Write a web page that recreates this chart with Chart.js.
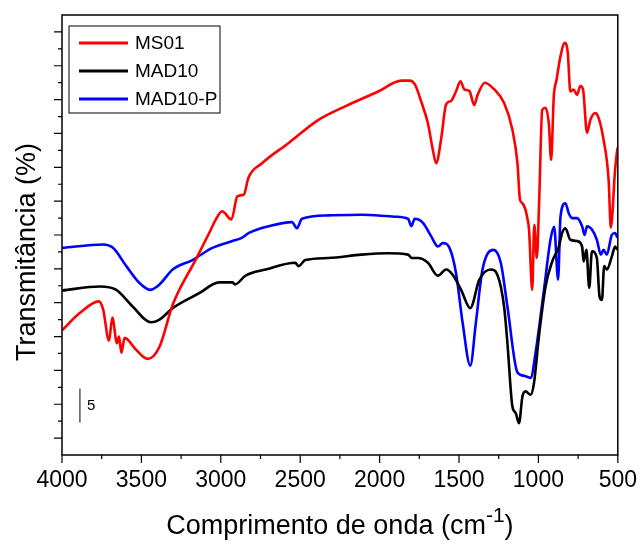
<!DOCTYPE html>
<html>
<head>
<meta charset="utf-8">
<script src="https://cdn.jsdelivr.net/npm/chart.js@4.4.1/dist/chart.umd.min.js"></script>
<style>
  html, body { margin: 0; padding: 0; background: #fff; }
  #wrap { width: 641px; height: 550px; }
</style>
</head>
<body>
<div id="wrap"><canvas id="ftir"></canvas></div>
<script>
// ------------------------------------------------------
// DADOS
// ------------------------------------------------------
const seriesNames = ["MS01", "MAD10", "MAD10-P"];
const seriesColors = ["#ff0000", "#000000", "#0000ff"];

const ms01Wn = [4000, 3887, 3768, 3741, 3704, 3683, 3654, 3641, 3626, 3606, 3532, 3460, 3386, 3303, 3157, 3073,
  3031, 2992, 2933, 2896, 2854, 2827, 2740, 2572, 2385, 2217, 2009, 1863, 1810, 1777, 1738, 1696, 1665, 1644,
  1613, 1581, 1550, 1519, 1491, 1466, 1435, 1404, 1383, 1337, 1278, 1216, 1164, 1132, 1116, 1101, 1081, 1070,
  1059, 1039, 1026, 1010, 995, 976, 955, 934, 920, 903, 886, 861, 834, 815, 799, 778, 757, 736, 719, 694, 673,
  642, 621, 590, 558, 544, 517, 502];
const ms01T = [15.9, 18.5, 20.2, 19.0, 14.4, 17.8, 14.0, 15.0, 12.6, 14.8, 13.0, 11.7, 13.5, 19.7, 26.4, 30.3,
  32.3, 33.5, 32.3, 35.7, 36.0, 38.4, 40.6, 43.6, 47.0, 49.0, 51.2, 52.8, 52.8, 52.2, 49.7, 46.5, 42.6, 40.6,
  44.1, 49.3, 49.8, 51.2, 52.7, 51.5, 51.3, 49.2, 50.7, 52.5, 51.5, 49.5, 45.6, 40.6, 35.2, 34.7, 33.7, 32.5,
  30.8, 21.9, 31.5, 26.6, 35.2, 48.5, 48.8, 46.3, 41.1, 50.5, 52.9, 56.4, 58.4, 56.9, 51.2, 51.5, 50.7, 52.0,
  51.5, 45.1, 47.0, 48.0, 47.3, 44.1, 38.2, 31.1, 39.7, 42.9];

const mad10Wn = [4000, 3762, 3658, 3554, 3438, 3386, 3303, 3136, 3011, 2927, 2911, 2844, 2718, 2531, 2510, 2468,
  2322, 2114, 1946, 1821, 1796, 1759, 1696, 1633, 1581, 1539, 1487, 1429, 1372, 1300, 1258, 1216, 1195, 1164,
  1143, 1122, 1101, 1081, 1049, 1028, 997, 955, 913, 871, 851, 830, 799, 757, 725, 715, 698, 680, 663, 632,
  615, 600, 586, 569, 538, 517, 503];
const mad10T = [21.8, 22.4, 21.9, 19.4, 17.1, 17.5, 19.2, 21.4, 23.0, 23.0, 22.7, 24.0, 24.9, 25.9, 25.4, 26.3,
  26.6, 27.1, 27.3, 27.1, 26.6, 26.6, 25.9, 24.0, 24.9, 24.1, 21.9, 19.2, 23.4, 24.9, 24.1, 19.4, 14.0, 4.7,
  3.7, 2.2, 6.1, 6.9, 6.4, 8.1, 15.0, 22.4, 26.1, 28.3, 30.3, 31.0, 29.3, 29.1, 28.3, 26.1, 27.8, 22.2, 27.6, 26.6,
  20.9, 20.4, 25.4, 24.9, 26.8, 28.3, 27.8];

const mad10pWn = [4000, 3741, 3679, 3595, 3512, 3445, 3386, 3303, 3178, 3053, 2927, 2865, 2823, 2698, 2552, 2521,
  2489, 2322, 2114, 1904, 1821, 1800, 1779, 1727, 1675, 1633, 1602, 1560, 1519, 1477, 1429, 1394, 1352, 1283,
  1237, 1195, 1132, 1091, 1049, 1018, 965, 924, 901, 876, 861, 830, 809, 788, 757, 725, 709, 694, 663, 632,
  607, 590, 569, 538, 517, 503];
const mad10pT = [28.1, 28.6, 28.1, 25.4, 22.9, 21.9, 22.7, 24.9, 26.3, 28.1, 29.1, 29.6, 30.3, 31.3, 31.9, 31.0,
  32.4, 32.9, 33.0, 32.7, 32.4, 31.3, 32.4, 31.8, 29.8, 28.3, 28.8, 28.1, 24.4, 17.0, 10.7, 17.0, 24.9, 27.8,
  25.9, 19.4, 9.7, 9.2, 8.9, 12.6, 21.9, 29.3, 31.2, 23.4, 32.7, 34.7, 33.2, 32.5, 32.5, 31.3, 30.0, 31.3, 30.8, 29.3,
  27.1, 27.8, 27.1, 30.0, 30.3, 29.6];

// eixo
const xMin = 500, xMax = 4000;
const yMin = -2.5, yMax = 62.5;
const xTickLabels = [4000, 3500, 3000, 2500, 2000, 1500, 1000, 500];

// barra de escala (5 %)
const scaleBarWn = 3887;
const scaleBarFrom = 2.3, scaleBarSize = 5;

const FONT = "'Liberation Sans', Arial, sans-serif";

function toPoints(xs, ys) {
  return xs.map((x, i) => ({ x: x, y: ys[i] }));
}

// ------------------------------------------------------
// PLUGIN: moldura, ticks maiores/menores, títulos, legenda
// ------------------------------------------------------
const decoPlugin = {
  id: "deco",
  afterDraw(chart) {
    const ctx = chart.ctx;
    const a = chart.chartArea;
    const sx = chart.scales.x, sy = chart.scales.y;
    ctx.save();

    // moldura
    ctx.strokeStyle = "#000";
    ctx.lineWidth = 1.5;
    ctx.strokeRect(a.left, a.top, a.right - a.left, a.bottom - a.top);

    // ticks do eixo x
    ctx.lineWidth = 1.2;
    ctx.beginPath();
    sx.ticks.forEach(t => {
      const px = sx.getPixelForValue(t.value);
      const len = (t.value % 500 === 0) ? 8 : 4;
      ctx.moveTo(px, a.bottom);
      ctx.lineTo(px, a.bottom + len);
    });
    // ticks do eixo y
    sy.ticks.forEach(t => {
      if (t.value <= yMin || t.value >= yMax) return;
      const py = sy.getPixelForValue(t.value);
      const len = (Math.abs(t.value % 5) < 1e-6) ? 8 : 4;
      ctx.moveTo(a.left, py);
      ctx.lineTo(a.left - len, py);
    });
    ctx.stroke();

    // barra de escala
    const bx = sx.getPixelForValue(scaleBarWn);
    const by0 = sy.getPixelForValue(scaleBarFrom);
    const by1 = sy.getPixelForValue(scaleBarFrom + scaleBarSize);
    ctx.lineWidth = 1;
    ctx.beginPath();
    ctx.moveTo(bx, by0);
    ctx.lineTo(bx, by1);
    ctx.stroke();
    ctx.fillStyle = "#000";
    ctx.font = "15px " + FONT;
    ctx.textAlign = "left";
    ctx.textBaseline = "middle";
    ctx.fillText(String(scaleBarSize), bx + 7, (by0 + by1) / 2);

    // título y
    ctx.save();
    ctx.translate(28, 252);
    ctx.rotate(-Math.PI / 2);
    ctx.font = "27px " + FONT;
    ctx.textAlign = "center";
    ctx.textBaseline = "middle";
    ctx.fillText("Transmitância (%)", 0, 0);
    ctx.restore();

    // título x com expoente
    const big = "27px " + FONT, small = "21px " + FONT;
    ctx.textBaseline = "alphabetic";
    const p1 = "Comprimento de onda (cm";
    const sup = "-1";
    const p2 = ")";
    ctx.font = big;
    const w1 = ctx.measureText(p1).width;
    const w3 = ctx.measureText(p2).width;
    ctx.font = small;
    const w2 = ctx.measureText(sup).width;
    const total = w1 + w2 + w3;
    const tx = (a.left + a.right) / 2 - total / 2;
    const base = 534;
    ctx.textAlign = "left";
    ctx.font = big;
    ctx.fillText(p1, tx, base);
    ctx.font = small;
    ctx.fillText(sup, tx + w1, base - 12);
    ctx.font = big;
    ctx.fillText(p2, tx + w1 + w2, base);

    // legenda
    const lx = a.left + 7, ly = a.top + 11, lw = 151, lh = 87;
    ctx.lineWidth = 1;
    ctx.strokeStyle = "#000";
    ctx.strokeRect(lx, ly, lw, lh);
    ctx.font = "19px " + FONT;
    ctx.textBaseline = "middle";
    chart.data.datasets.forEach((ds, i) => {
      const yy = ly + 17 + i * 28;
      ctx.strokeStyle = ds.borderColor;
      ctx.lineWidth = 3;
      ctx.beginPath();
      ctx.moveTo(lx + 10, yy);
      ctx.lineTo(lx + 59, yy);
      ctx.stroke();
      ctx.fillStyle = "#000";
      ctx.fillText(ds.label, lx + 66, yy + 1);
    });

    ctx.restore();
  }
};

// ------------------------------------------------------
// GRÁFICO
// ------------------------------------------------------
const ctx = document.getElementById("ftir").getContext("2d");
const seriesData = [
  toPoints(ms01Wn, ms01T),
  toPoints(mad10Wn, mad10T),
  toPoints(mad10pWn, mad10pT)
];

new Chart(ctx, {
  type: "line",
  data: {
    datasets: seriesNames.map((name, i) => ({
      label: name,
      data: seriesData[i],
      borderColor: seriesColors[i],
      borderWidth: 2.6,
      pointRadius: 0,
      fill: false,
      cubicInterpolationMode: "monotone"
    }))
  },
  options: {
    responsive: true,
    maintainAspectRatio: false,
    animation: false,
    layout: { autoPadding: false, padding: { left: 0, right: 17, top: 15, bottom: 0 } },
    plugins: {
      legend: { display: false },
      tooltip: { enabled: false }
    },
    scales: {
      x: {
        type: "linear",
        reverse: true,
        min: xMin,
        max: xMax,
        grid: { display: false, drawTicks: true, tickLength: 8 },
        border: { display: false },
        ticks: {
          stepSize: 250,
          autoSkip: false,
          maxRotation: 0,
          padding: 4,
          color: "#000",
          font: { family: FONT, size: 23 },
          callback: (v) => xTickLabels.includes(v) ? String(v) : ""
        },
        afterFit: (s) => { s.height = 95; }
      },
      y: {
        min: yMin,
        max: yMax,
        grid: { display: false },
        border: { display: false },
        ticks: { stepSize: 2.5, display: false },
        afterFit: (s) => { s.width = 62; }
      }
    }
  },
  plugins: [decoPlugin]
});
</script>
</body>
</html>
